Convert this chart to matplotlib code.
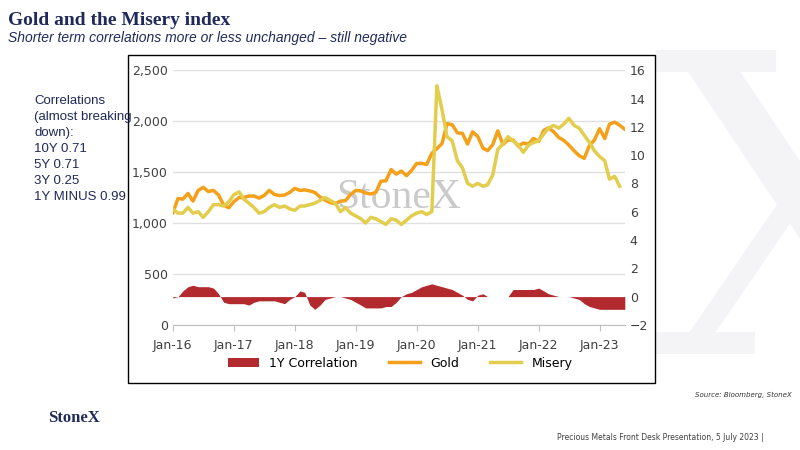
import numpy as np
import pandas as pd
import matplotlib
matplotlib.use("Agg")
import matplotlib.pyplot as plt
from matplotlib.patches import Rectangle

dates = pd.date_range("2016-01-01", periods=90, freq="MS")

gold = [1100, 1240, 1235, 1290, 1215, 1320, 1350, 1310, 1320, 1275, 1175, 1150,
        1210, 1250, 1250, 1265, 1265, 1245, 1270, 1320, 1280, 1270, 1275, 1300,
        1340, 1320, 1325, 1315, 1300, 1255, 1225, 1200, 1190, 1215, 1220, 1280,
        1320, 1315, 1295, 1285, 1300, 1410, 1415, 1525, 1480, 1510, 1465, 1515,
        1585, 1585, 1575, 1685, 1730, 1780, 1975, 1965, 1885, 1880, 1775, 1895,
        1850, 1735, 1710, 1770, 1905, 1770, 1815, 1815, 1755, 1785, 1775, 1830,
        1800, 1910, 1935, 1895, 1840, 1810, 1765, 1710, 1660, 1635, 1760, 1815,
        1925, 1830, 1970, 1990, 1960, 1920]

misery = [6.2, 5.9, 5.9, 6.3, 5.9, 6.0, 5.6, 6.0, 6.5, 6.5, 6.4, 6.7,
          7.2, 7.4, 6.9, 6.6, 6.3, 5.9, 6.0, 6.3, 6.5, 6.3, 6.4, 6.2,
          6.1, 6.4, 6.4, 6.5, 6.6, 6.8, 7.0, 6.8, 6.6, 6.0, 6.3, 5.9,
          5.7, 5.5, 5.2, 5.6, 5.5, 5.3, 5.1, 5.5, 5.4, 5.1, 5.4, 5.7,
          5.9, 6.0, 5.8, 6.0, 14.9, 13.2, 11.3, 11.0, 9.6, 9.1, 8.0, 7.8,
          8.0, 7.8, 7.9, 8.6, 10.4, 10.8, 11.3, 11.0, 10.7, 10.2, 10.7, 10.9,
          11.0, 11.5, 11.9, 12.1, 11.9, 12.2, 12.6, 12.1, 11.9, 11.4, 10.9, 10.3,
          9.9, 9.6, 8.3, 8.5, 7.8, np.nan]

corr = [-0.1, 0.0, 0.4, 0.7, 0.8, 0.7, 0.7, 0.7, 0.6, 0.2, -0.4, -0.5,
        -0.5, -0.5, -0.5, -0.6, -0.4, -0.3, -0.3, -0.3, -0.3, -0.4, -0.5, -0.2,
        0.0, 0.4, 0.3, -0.6, -0.9, -0.6, -0.2, -0.1, 0.0, 0.0, -0.1, -0.2,
        -0.4, -0.6, -0.8, -0.8, -0.8, -0.8, -0.7, -0.7, -0.4, 0.0, 0.2, 0.3,
        0.5, 0.7, 0.8, 0.9, 0.8, 0.7, 0.6, 0.5, 0.3, 0.1, -0.2, -0.3,
        0.1, 0.2, 0.0, 0.0, 0.0, 0.0, 0.0, 0.5, 0.5, 0.5, 0.5, 0.5,
        0.6, 0.4, 0.2, 0.1, 0.0, 0.0, 0.0, -0.1, -0.2, -0.5, -0.7, -0.8,
        -0.9, -0.9, -0.9, -0.9, -0.9, -0.9]

corr_text = "Correlations\n(almost breaking\ndown):\n10Y 0.71\n5Y 0.71\n3Y 0.25\n1Y MINUS 0.99"

navy = "#1f2a5a"
fig = plt.figure(figsize=(8, 4.5), dpi=100)

# faint background X
fig.text(1.0, 0.47, "X", fontsize=300, color="#f4f4f6", ha="center", va="center",
         family="DejaVu Serif", zorder=0)

fig.text(0.01, 0.955, "Gold and the Misery index", fontsize=14, fontweight="bold",
         family="Liberation Serif", color=navy, va="center")
fig.text(0.01, 0.915, "Shorter term correlations more or less unchanged \u2013 still negative",
         fontsize=10, style="italic", color=navy, va="center", family="Liberation Sans")

fig.add_artist(Rectangle((0.16, 0.148), 0.659, 0.73, transform=fig.transFigure,
                         fill=True, facecolor="white", edgecolor="black", lw=1, zorder=1))

fig.text(0.043, 0.79, corr_text, fontsize=9.5, color=navy, va="top", linespacing=1.45,
         family="Liberation Sans")

ax = fig.add_axes([0.216, 0.278, 0.565, 0.566], zorder=3)
ax2 = ax.twinx()
ax.set_zorder(3)
ax2.set_zorder(2)
ax.patch.set_visible(False)

ax2.fill_between(dates, 0, corr, color="#b22a2e", lw=0, label="1Y Correlation")
ax.plot(dates, gold, color="#f5a01a", lw=2.5, label="Gold")
misery_scaled = [(m + 2) * 2500 / 18 for m in misery]
ax.plot(dates, misery_scaled, color="#e2cd4c", lw=2.5, label="Misery")

ax.set_ylim(0, 2500)
ax2.set_ylim(-2, 16)
ax.set_xlim(dates[0], dates[-1])
ax.set_yticks(range(0, 2501, 500))
ax.set_yticklabels([f"{v:,}" for v in range(0, 2501, 500)])
ax2.set_yticks(range(-2, 17, 2))
ticks = pd.date_range("2016-01-01", "2023-01-01", freq="YS")
ax.set_xticks(ticks)
ax.set_xticklabels([d.strftime("%b-%y") for d in ticks])
ax.grid(axis="y", color="#e0e0e0", lw=1)
ax.set_axisbelow(True)
for a in (ax, ax2):
    for s in a.spines.values():
        s.set_visible(False)
    a.tick_params(length=0, labelsize=9, colors="#404040")
ax.spines["bottom"].set_visible(True)
ax.spines["bottom"].set_color("#bfbfbf")
ax.tick_params(axis="x", length=4, color="#bfbfbf", direction="out", pad=6)

ax.text(0.5, 0.5, "StoneX", transform=ax.transAxes, fontsize=30, color="#bdbdbd",
        ha="center", va="center", family="Liberation Serif", alpha=0.8, zorder=0)

h1, l1 = ax2.get_legend_handles_labels()
h2, l2 = ax.get_legend_handles_labels()
fig.legend(h1 + h2, l1 + l2, loc="center", bbox_to_anchor=(0.5, 0.193), ncol=3,
           frameon=False, fontsize=9, handlelength=2.5, columnspacing=2.5)

fig.text(0.99, 0.118, "Source: Bloomberg, StoneX", fontsize=5, style="italic",
         ha="right", color="#333333")
fig.text(0.06, 0.07, "StoneX", fontsize=12, fontweight="bold", family="Liberation Serif",
         color=navy, va="center", ha="left")
fig.text(0.955, 0.022, "Precious Metals Front Desk Presentation, 5 July 2023 |", fontsize=5.5,
         ha="right", color="#404040")

fig.savefig("out.png", dpi=100)
